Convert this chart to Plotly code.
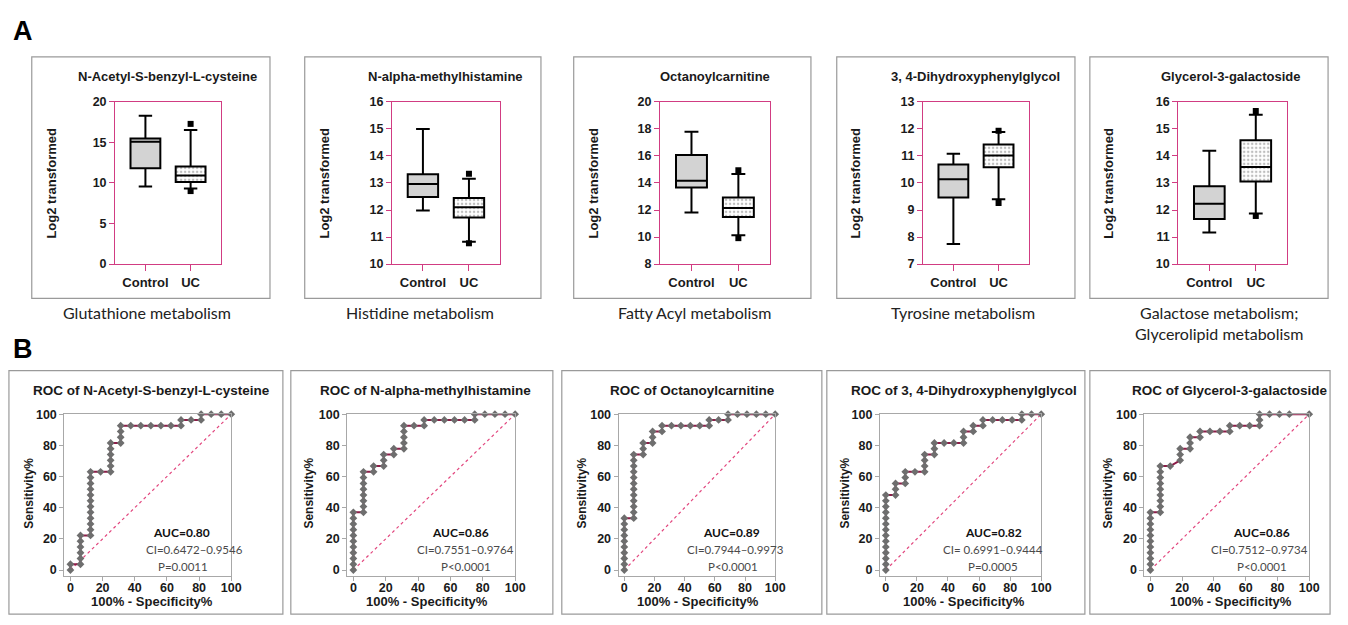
import plotly.graph_objects as go

W, H = 1348, 625

# ---------------- data ----------------
metabolites = ["N-Acetyl-S-benzyl-L-cysteine", "N-alpha-methylhistamine", "Octanoylcarnitine",
               "3, 4-Dihydroxyphenylglycol", "Glycerol-3-galactoside"]
pathways = ["Glutathione metabolism", "Histidine metabolism", "Fatty Acyl metabolism",
            "Tyrosine metabolism", "Galactose metabolism;<br>Glycerolipid metabolism"]
groups = ["Control", "UC"]

ctrl_upper = [18.28, 15.0, 17.79, 11.08, 14.19]
ctrl_q3 = [15.48, 13.32, 16.06, 10.68, 12.88]
ctrl_median = [15.08, 12.96, 14.17, 10.14, 12.23]
ctrl_q1 = [11.8, 12.48, 13.66, 9.46, 11.67]
ctrl_lower = [9.56, 11.98, 11.82, 7.74, 11.17]

uc_upper = [16.52, 13.16, 14.67, 11.88, 15.52]
uc_q3 = [12.04, 12.44, 12.92, 11.42, 14.58]
uc_median = [10.92, 12.1, 12.15, 11.02, 13.59]
uc_q1 = [10.12, 11.72, 11.48, 10.58, 13.05]
uc_lower = [9.32, 10.83, 10.14, 9.4, 11.87]
uc_out_high = [17.28, 13.34, 14.94, 11.93, 15.66]
uc_out_low = [9.0, 10.77, 9.92, 9.26, 11.78]

y_ranges = [[0, 20], [10, 16], [8, 20], [7, 13], [10, 16]]
y_dticks = [5, 1, 2, 1, 1]

fpr1 = [0, 0, 6.25, 6.25, 6.25, 6.25, 6.25, 6.25, 12.5, 12.5, 12.5, 12.5, 12.5, 12.5, 12.5, 12.5, 12.5, 12.5,
        12.5, 12.5, 18.75, 25, 25, 25, 25, 25, 25, 31.25, 31.25, 31.25, 31.25, 37.5, 43.75, 50, 56.25, 62.5,
        68.75, 68.75, 75, 81.25, 81.25, 87.5, 93.75, 100]
tpr1 = [0, 3.7, 3.7, 7.4, 11.1, 14.8, 18.5, 22.2, 22.2, 25.9, 29.6, 33.3, 37.0, 40.7, 44.4, 48.1, 51.9, 55.6,
        59.3, 63.0, 63.0, 63.0, 66.7, 70.4, 74.1, 77.8, 81.5, 81.5, 85.2, 88.9, 92.6, 92.6, 92.6, 92.6, 92.6,
        92.6, 92.6, 96.3, 96.3, 96.3, 100, 100, 100, 100]

fpr2 = [0, 0, 0, 0, 0, 0, 0, 0, 0, 0, 0, 6.25, 6.25, 6.25, 6.25, 6.25, 6.25, 6.25, 6.25, 12.5, 12.5,
        18.75, 18.75, 18.75, 25, 25, 31.25, 31.25, 31.25, 31.25, 31.25, 37.5, 43.75, 43.75, 50, 56.25, 62.5,
        68.75, 75, 75, 81.25, 87.5, 93.75, 100]
tpr2 = [0, 3.7, 7.4, 11.1, 14.8, 18.5, 22.2, 25.9, 29.6, 33.3, 37.0, 37.0, 40.7, 44.4, 48.1, 51.9, 55.6, 59.3,
        63.0, 63.0, 66.7, 66.7, 70.4, 74.1, 74.1, 77.8, 77.8, 81.5, 85.2, 88.9, 92.6, 92.6, 92.6, 96.3, 96.3,
        96.3, 96.3, 96.3, 96.3, 100, 100, 100, 100, 100]

fpr3 = [0, 0, 0, 0, 0, 0, 0, 0, 0, 0, 6.25, 6.25, 6.25, 6.25, 6.25, 6.25, 6.25, 6.25, 6.25, 6.25, 6.25, 6.25,
        12.5, 12.5, 12.5, 18.75, 18.75, 18.75, 25, 25, 31.25, 37.5, 43.75, 50, 56.25, 56.25, 62.5, 68.75, 68.75,
        75, 81.25, 87.5, 93.75, 100]
tpr3 = [0, 3.7, 7.4, 11.1, 14.8, 18.5, 22.2, 25.9, 29.6, 33.3, 33.3, 37.0, 40.7, 44.4, 48.1, 51.9, 55.6, 59.3,
        63.0, 66.7, 70.4, 74.1, 74.1, 77.8, 81.5, 81.5, 85.2, 88.9, 88.9, 92.6, 92.6, 92.6, 92.6, 92.6, 92.6,
        96.3, 96.3, 96.3, 100, 100, 100, 100, 100, 100]

fpr4 = [0, 0, 0, 0, 0, 0, 0, 0, 0, 0, 0, 0, 0, 0, 6.25, 6.25, 6.25, 12.5, 12.5, 12.5, 18.75, 25, 25, 25, 25,
        31.25, 31.25, 31.25, 37.5, 43.75, 50, 50, 50, 56.25, 56.25, 62.5, 62.5, 68.75, 75, 81.25, 87.5, 87.5,
        93.75, 100]
tpr4 = [0, 3.7, 7.4, 11.1, 14.8, 18.5, 22.2, 25.9, 29.6, 33.3, 37.0, 40.7, 44.4, 48.1, 48.1, 51.9, 55.6, 55.6,
        59.3, 63.0, 63.0, 63.0, 66.7, 70.4, 74.1, 74.1, 77.8, 81.5, 81.5, 81.5, 81.5, 85.2, 88.9, 88.9, 92.6,
        92.6, 96.3, 96.3, 96.3, 96.3, 96.3, 100, 100, 100]

fpr5 = [0, 0, 0, 0, 0, 0, 0, 0, 0, 0, 0, 6.25, 6.25, 6.25, 6.25, 6.25, 6.25, 6.25, 6.25, 6.25, 12.5, 18.75,
        18.75, 18.75, 25, 25, 25, 31.25, 31.25, 37.5, 43.75, 50, 50, 56.25, 62.5, 68.75, 68.75, 68.75, 75,
        81.25, 87.5, 100]
tpr5 = [0, 3.7, 7.4, 11.1, 14.8, 18.5, 22.2, 25.9, 29.6, 33.3, 37.0, 37.0, 40.7, 44.4, 48.1, 51.9, 55.6, 59.3,
        63.0, 66.7, 66.7, 70.4, 74.1, 77.8, 77.8, 81.5, 85.2, 85.2, 88.9, 88.9, 88.9, 88.9, 92.6, 92.6, 92.6,
        92.6, 96.3, 100, 100, 100, 100, 100]

roc_fpr = [fpr1, fpr2, fpr3, fpr4, fpr5]
roc_tpr = [tpr1, tpr2, tpr3, tpr4, tpr5]
diag = [0, 100]
roc_ticks = [0, 20, 40, 60, 80, 100]

auc_labels = ["AUC=0.80", "AUC=0.86", "AUC=0.89", "AUC=0.82", "AUC=0.86"]
ci_labels = ["CI=0.6472\u20130.9546", "CI=0.7551\u20130.9764", "CI=0.7944\u20130.9973",
             "CI= 0.6991\u20130.9444", "CI=0.7512\u20130.9734"]
p_labels = ["P=0.0011", "P<0.0001", "P<0.0001", "P=0.0005", "P<0.0001"]

# ---------------- geometry (pixels) ----------------
top_plot_x = [(116, 223), (395, 504), (665, 776), (930, 1037), (1187, 1297)]
top_plot_y = (97, 263)
top_box_x = [(32, 272), (307, 545), (578, 817), (843, 1083), (1098, 1338)]
top_box_y = (51, 298)
top_title_x = [169, 449, 720, 983, 1240]
top_ylab_x = [52, 327, 598, 862, 1117]
path_x = [148, 423, 700, 970, 1228]

bot_plot_x = [(64.8, 233), (349.8, 519), (623.2, 781), (886.5, 1049), (1152.9, 1319)]
bot_plot_y = (416.5, 582)
bot_box_x = [(9, 285), (293, 557), (566, 828), (833, 1093), (1098, 1340)]
bot_box_y = (372, 621)
bot_title_x = [153, 429, 698, 971, 1239]
bot_xlab_x = [153, 430, 703, 971, 1240]
bot_ylab_x = [29, 311, 586, 851, 1116]
auc_x = [69, 66, 71, 69, 70]
ci_x = [77, 69.5, 73.5, 69, 69]
p_x = [70, 69.5, 72, 69, 70]


def fx(px):
    return px / W


def fy(py):
    return 1 - py / H


PINK = "#d13c82"
BASE = "Liberation Sans, Arial, sans-serif"
CAL = "Lato, Carlito, sans-serif"

fig = go.Figure()
layout = dict(width=W, height=H, autosize=False, margin=dict(l=0, r=0, t=0, b=0),
              paper_bgcolor="white", plot_bgcolor="white", showlegend=False,
              font=dict(family=BASE, color="#1a1a1a"), barmode="overlay")
annotations = []
shapes = []

for i in range(5):
    n = i + 1
    xa = "x" if n == 1 else f"x{n}"
    ya = "y" if n == 1 else f"y{n}"
    layout["xaxis" if n == 1 else f"xaxis{n}"] = dict(
        domain=[fx(top_plot_x[i][0]), fx(top_plot_x[i][1])], anchor=ya,
        range=[-0.67, 1.68], tickvals=[0, 1], ticktext=groups,
        showline=True, linecolor=PINK, linewidth=1.2, mirror=True,
        ticks="outside", ticklen=6, tickcolor=PINK, tickwidth=1.2,
        tickfont=dict(size=13, family=BASE, weight="bold", color="#1a1a1a"),
        showgrid=False, zeroline=False, fixedrange=True)
    layout["yaxis" if n == 1 else f"yaxis{n}"] = dict(
        domain=[fy(top_plot_y[1]), fy(top_plot_y[0])], anchor=xa,
        range=y_ranges[i], dtick=y_dticks[i], tick0=y_ranges[i][0],
        showline=True, linecolor=PINK, linewidth=1.2, mirror=True,
        ticks="outside", ticklen=5, tickcolor=PINK, tickwidth=1.2,
        tickfont=dict(size=12.5, family=BASE, weight="bold", color="#1a1a1a"),
        showgrid=False, zeroline=False, fixedrange=True)

    # UC dotted fill
    fig.add_trace(go.Bar(x=[1], y=[uc_q3[i] - uc_q1[i]], base=[uc_q1[i]], width=0.66,
                         marker=dict(color="white", line=dict(width=0),
                                     pattern=dict(shape=".", fgcolor="#7a7a7a", bgcolor="white",
                                                  size=4, solidity=0.3)),
                         xaxis=xa, yaxis=ya, hoverinfo="skip"))
    fig.add_trace(go.Box(x=[0], q1=[ctrl_q1[i]], median=[ctrl_median[i]], q3=[ctrl_q3[i]],
                         lowerfence=[ctrl_lower[i]], upperfence=[ctrl_upper[i]],
                         width=0.66, whiskerwidth=0.45, fillcolor="#d3d3d3",
                         line=dict(color="black", width=2), boxpoints=False,
                         xaxis=xa, yaxis=ya, hoverinfo="skip"))
    fig.add_trace(go.Box(x=[1], q1=[uc_q1[i]], median=[uc_median[i]], q3=[uc_q3[i]],
                         lowerfence=[uc_lower[i]], upperfence=[uc_upper[i]],
                         width=0.66, whiskerwidth=0.45, fillcolor="rgba(0,0,0,0)",
                         line=dict(color="black", width=2), boxpoints=False,
                         xaxis=xa, yaxis=ya, hoverinfo="skip"))
    fig.add_trace(go.Scatter(x=[1, 1], y=[uc_out_high[i], uc_out_low[i]], mode="markers",
                             marker=dict(symbol="square", size=6, color="black"),
                             xaxis=xa, yaxis=ya, hoverinfo="skip", cliponaxis=False))

    shapes.append(dict(type="rect", xref="paper", yref="paper",
                       x0=fx(top_box_x[i][0]), x1=fx(top_box_x[i][1]),
                       y0=fy(top_box_y[1]), y1=fy(top_box_y[0]),
                       line=dict(color="#9a9a9a", width=1.2), fillcolor="rgba(0,0,0,0)", layer="below"))
    annotations.append(dict(text=metabolites[i], xref="paper", yref="paper", x=fx(top_title_x[i]), y=fy(71),
                            xanchor="center", yanchor="middle", showarrow=False,
                            font=dict(size=13, family=BASE, weight="bold", color="#1a1a1a")))
    annotations.append(dict(text="Log2 transformed", xref="paper", yref="paper", x=fx(top_ylab_x[i]), y=fy(180),
                            xanchor="center", yanchor="middle", showarrow=False, textangle=-90,
                            font=dict(size=13, family=BASE, weight="bold", color="#1a1a1a")))
    annotations.append(dict(text=pathways[i], xref="paper", yref="paper", x=fx(path_x[i]), y=fy(301),
                            xanchor="center", yanchor="top", showarrow=False, align="center",
                            font=dict(size=16, family=CAL, color="#222222")))

# ---------------- ROC row ----------------
for i in range(5):
    n = i + 6
    xa, ya = f"x{n}", f"y{n}"
    tick_font = dict(size=12.5, family=BASE, weight="bold", color="#1a1a1a")
    layout[f"xaxis{n}"] = dict(
        domain=[fx(bot_plot_x[i][0]), fx(bot_plot_x[i][1])], anchor=ya,
        range=[-3.8, 100], tickvals=roc_ticks, showline=True, linecolor="#a8a8a8", linewidth=1,
        mirror=True, ticks="outside", ticklen=4, tickcolor="#a8a8a8", tickfont=tick_font,
        ticklabelstandoff=-4,
        showgrid=False, zeroline=False, fixedrange=True)
    layout[f"yaxis{n}"] = dict(
        domain=[fy(bot_plot_y[1]), fy(bot_plot_y[0])], anchor=xa,
        range=[-3.8, 100], tickvals=roc_ticks, showline=True, linecolor="#a8a8a8", linewidth=1,
        mirror=True, ticks="outside", ticklen=4, tickcolor="#a8a8a8", tickfont=tick_font,
        showgrid=False, zeroline=False, fixedrange=True)

    fig.add_trace(go.Scatter(x=diag, y=diag, mode="lines",
                             line=dict(color="#e2467e", width=1.2, dash="dot"),
                             xaxis=xa, yaxis=ya, hoverinfo="skip"))
    fig.add_trace(go.Scatter(x=roc_fpr[i], y=roc_tpr[i], mode="lines+markers",
                             line=dict(color="#8c1c47", width=2),
                             marker=dict(symbol="diamond", size=6, color="#6e6e6e"),
                             xaxis=xa, yaxis=ya, hoverinfo="skip", cliponaxis=False))

    shapes.append(dict(type="rect", xref="paper", yref="paper",
                       x0=fx(bot_box_x[i][0]), x1=fx(bot_box_x[i][1]),
                       y0=fy(bot_box_y[1]), y1=fy(bot_box_y[0]),
                       line=dict(color="#9a9a9a", width=1.2), fillcolor="rgba(0,0,0,0)", layer="below"))
    annotations.append(dict(text="ROC of " + metabolites[i], xref="paper", yref="paper",
                            x=fx(bot_title_x[i]), y=fy(392), xanchor="center", yanchor="middle",
                            showarrow=False, font=dict(size=13.5, family=BASE, weight="bold", color="#1a1a1a")))
    annotations.append(dict(text="100% - Specificity%", xref="paper", yref="paper",
                            x=fx(bot_xlab_x[i]), y=fy(608), xanchor="center", yanchor="middle",
                            showarrow=False, font=dict(size=13, family=BASE, weight="bold", color="#1a1a1a")))
    annotations.append(dict(text="Sensitivity%", xref="paper", yref="paper",
                            x=fx(bot_ylab_x[i]), y=fy(497), xanchor="center", yanchor="middle",
                            textangle=-90, showarrow=False,
                            font=dict(size=12, family=BASE, weight="bold", color="#1a1a1a")))
    annotations.append(dict(text=auc_labels[i], xref=xa, yref=ya, x=auc_x[i], y=24,
                            xanchor="center", yanchor="middle", showarrow=False,
                            font=dict(size=12, family=CAL, weight="bold", color="#111111")))
    annotations.append(dict(text=ci_labels[i], xref=xa, yref=ya, x=ci_x[i], y=13,
                            xanchor="center", yanchor="middle", showarrow=False,
                            font=dict(size=11.5, family=CAL, color="#4a4a4a")))
    annotations.append(dict(text=p_labels[i], xref=xa, yref=ya, x=p_x[i], y=2.5,
                            xanchor="center", yanchor="middle", showarrow=False,
                            font=dict(size=11.5, family=CAL, color="#4a4a4a")))

annotations.append(dict(text="A", xref="paper", yref="paper", x=fx(11), y=fy(25), xanchor="left",
                        yanchor="middle", showarrow=False,
                        font=dict(size=27, family=BASE, weight="bold", color="black")))
annotations.append(dict(text="B", xref="paper", yref="paper", x=fx(11), y=fy(350), xanchor="left",
                        yanchor="middle", showarrow=False,
                        font=dict(size=27, family=BASE, weight="bold", color="black")))

layout["annotations"] = annotations
layout["shapes"] = shapes
fig.update_layout(**layout)
fig.write_html("out.html", config={"displayModeBar": False},
               post_script="document.body.style.margin='0px';")
